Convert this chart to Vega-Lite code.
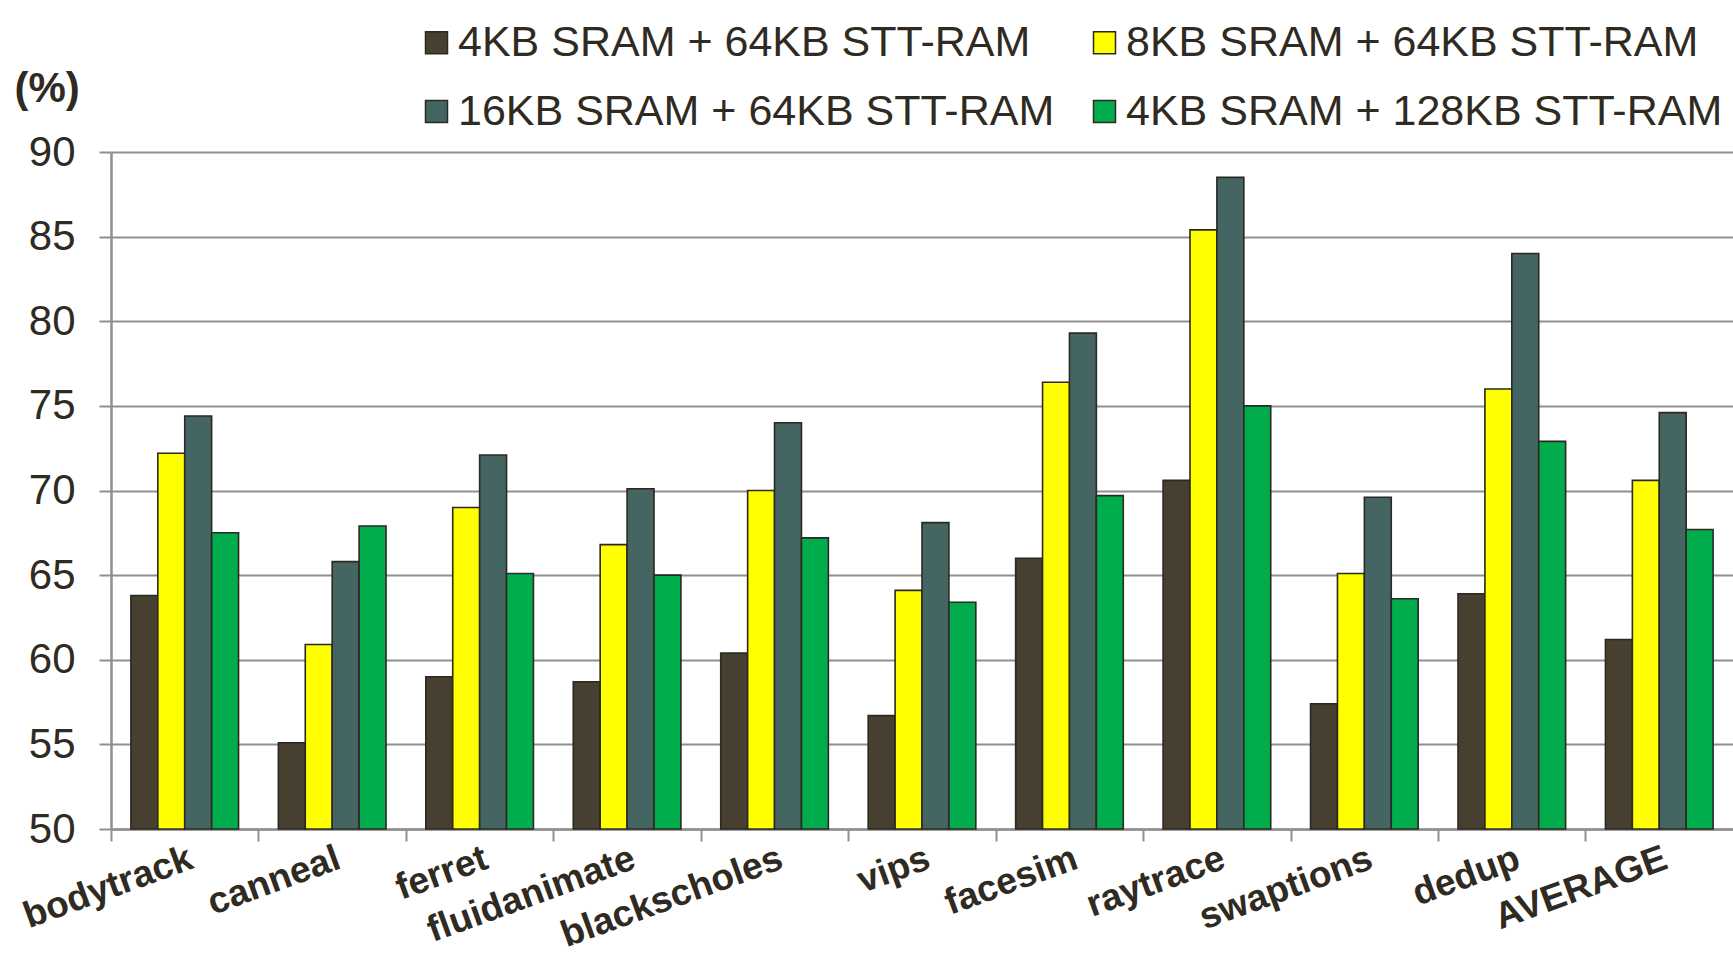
{
  "$schema": "https://vega.github.io/schema/vega-lite/v6.json",
  "width": 1622,
  "height": 677,
  "autosize": {"type": "none"},
  "padding": {"left": 111, "top": 152, "right": 0, "bottom": 130},
  "background": "#ffffff",
  "config": {
    "font": "Liberation Sans",
    "view": {"stroke": null},
    "axis": {"labelColor": "#2f2b22", "titleColor": "#2f2b22"}
  },
  "data": {
    "values": [
      {"bench": "bodytrack", "config": "4KB SRAM + 64KB STT-RAM", "value": 63.8},
      {"bench": "bodytrack", "config": "8KB SRAM + 64KB STT-RAM", "value": 72.2},
      {"bench": "bodytrack", "config": "16KB SRAM + 64KB STT-RAM", "value": 74.4},
      {"bench": "bodytrack", "config": "4KB SRAM + 128KB STT-RAM", "value": 67.5},
      {"bench": "canneal", "config": "4KB SRAM + 64KB STT-RAM", "value": 55.1},
      {"bench": "canneal", "config": "8KB SRAM + 64KB STT-RAM", "value": 60.9},
      {"bench": "canneal", "config": "16KB SRAM + 64KB STT-RAM", "value": 65.8},
      {"bench": "canneal", "config": "4KB SRAM + 128KB STT-RAM", "value": 67.9},
      {"bench": "ferret", "config": "4KB SRAM + 64KB STT-RAM", "value": 59.0},
      {"bench": "ferret", "config": "8KB SRAM + 64KB STT-RAM", "value": 69.0},
      {"bench": "ferret", "config": "16KB SRAM + 64KB STT-RAM", "value": 72.1},
      {"bench": "ferret", "config": "4KB SRAM + 128KB STT-RAM", "value": 65.1},
      {"bench": "fluidanimate", "config": "4KB SRAM + 64KB STT-RAM", "value": 58.7},
      {"bench": "fluidanimate", "config": "8KB SRAM + 64KB STT-RAM", "value": 66.8},
      {"bench": "fluidanimate", "config": "16KB SRAM + 64KB STT-RAM", "value": 70.1},
      {"bench": "fluidanimate", "config": "4KB SRAM + 128KB STT-RAM", "value": 65.0},
      {"bench": "blackscholes", "config": "4KB SRAM + 64KB STT-RAM", "value": 60.4},
      {"bench": "blackscholes", "config": "8KB SRAM + 64KB STT-RAM", "value": 70.0},
      {"bench": "blackscholes", "config": "16KB SRAM + 64KB STT-RAM", "value": 74.0},
      {"bench": "blackscholes", "config": "4KB SRAM + 128KB STT-RAM", "value": 67.2},
      {"bench": "vips", "config": "4KB SRAM + 64KB STT-RAM", "value": 56.7},
      {"bench": "vips", "config": "8KB SRAM + 64KB STT-RAM", "value": 64.1},
      {"bench": "vips", "config": "16KB SRAM + 64KB STT-RAM", "value": 68.1},
      {"bench": "vips", "config": "4KB SRAM + 128KB STT-RAM", "value": 63.4},
      {"bench": "facesim", "config": "4KB SRAM + 64KB STT-RAM", "value": 66.0},
      {"bench": "facesim", "config": "8KB SRAM + 64KB STT-RAM", "value": 76.4},
      {"bench": "facesim", "config": "16KB SRAM + 64KB STT-RAM", "value": 79.3},
      {"bench": "facesim", "config": "4KB SRAM + 128KB STT-RAM", "value": 69.7},
      {"bench": "raytrace", "config": "4KB SRAM + 64KB STT-RAM", "value": 70.6},
      {"bench": "raytrace", "config": "8KB SRAM + 64KB STT-RAM", "value": 85.4},
      {"bench": "raytrace", "config": "16KB SRAM + 64KB STT-RAM", "value": 88.5},
      {"bench": "raytrace", "config": "4KB SRAM + 128KB STT-RAM", "value": 75.0},
      {"bench": "swaptions", "config": "4KB SRAM + 64KB STT-RAM", "value": 57.4},
      {"bench": "swaptions", "config": "8KB SRAM + 64KB STT-RAM", "value": 65.1},
      {"bench": "swaptions", "config": "16KB SRAM + 64KB STT-RAM", "value": 69.6},
      {"bench": "swaptions", "config": "4KB SRAM + 128KB STT-RAM", "value": 63.6},
      {"bench": "dedup", "config": "4KB SRAM + 64KB STT-RAM", "value": 63.9},
      {"bench": "dedup", "config": "8KB SRAM + 64KB STT-RAM", "value": 76.0},
      {"bench": "dedup", "config": "16KB SRAM + 64KB STT-RAM", "value": 84.0},
      {"bench": "dedup", "config": "4KB SRAM + 128KB STT-RAM", "value": 72.9},
      {"bench": "AVERAGE", "config": "4KB SRAM + 64KB STT-RAM", "value": 61.2},
      {"bench": "AVERAGE", "config": "8KB SRAM + 64KB STT-RAM", "value": 70.6},
      {"bench": "AVERAGE", "config": "16KB SRAM + 64KB STT-RAM", "value": 74.6},
      {"bench": "AVERAGE", "config": "4KB SRAM + 128KB STT-RAM", "value": 67.7}
    ]
  },
  "mark": {"type": "bar", "stroke": "#2b2922", "strokeWidth": 1.6},
  "encoding": {
    "x": {
      "field": "bench",
      "type": "nominal",
      "sort": null,
      "scale": {"paddingInner": 0.27, "paddingOuter": 0.135},
      "axis": {
        "title": null,
        "bandPosition": 0,
        "tickOffset": -20,
        "labelOffset": 20,
        "labelAngle": -20,
        "labelAlign": "right",
        "labelBaseline": "top",
        "labelFontSize": 37,
        "labelFontWeight": "bold",
        "labelPadding": -1,
        "labelLimit": 0,
        "labelOverlap": false,
        "labelBound": false,
        "ticks": true,
        "tickSize": 12,
        "tickColor": "#8f8f8f",
        "tickWidth": 2,
        "domainColor": "#8f8f8f",
        "domainWidth": 2.5,
        "grid": false
      }
    },
    "xOffset": {
      "field": "config",
      "type": "nominal",
      "sort": ["4KB SRAM + 64KB STT-RAM", "8KB SRAM + 64KB STT-RAM", "16KB SRAM + 64KB STT-RAM", "4KB SRAM + 128KB STT-RAM"],
      "scale": {"paddingInner": 0, "paddingOuter": 0}
    },
    "y": {
      "field": "value",
      "type": "quantitative",
      "scale": {"domain": [50, 90], "nice": false, "zero": false},
      "axis": {
        "values": [50, 55, 60, 65, 70, 75, 80, 85, 90],
        "title": "(%)",
        "titleAngle": 0,
        "titleFontSize": 42,
        "titleFontWeight": "bold",
        "titleAlign": "left",
        "titleBaseline": "middle",
        "titleX": -97,
        "titleY": -64,
        "labelFontSize": 42,
        "labelPadding": 24,
        "labelFontWeight": "normal",
        "tickSize": 12,
        "tickColor": "#8f8f8f",
        "tickWidth": 2,
        "domainColor": "#8f8f8f",
        "domainWidth": 2.5,
        "grid": true,
        "gridColor": "#8f8f8f",
        "gridWidth": 2
      }
    },
    "y2": {"datum": 50},
    "color": {
      "field": "config",
      "type": "nominal",
      "sort": ["4KB SRAM + 64KB STT-RAM", "8KB SRAM + 64KB STT-RAM", "16KB SRAM + 64KB STT-RAM", "4KB SRAM + 128KB STT-RAM"],
      "scale": {
        "domain": ["4KB SRAM + 64KB STT-RAM", "8KB SRAM + 64KB STT-RAM", "16KB SRAM + 64KB STT-RAM", "4KB SRAM + 128KB STT-RAM"],
        "range": ["#473F2F", "#FFFF00", "#456563", "#00AC4C"]
      },
      "legend": {
        "title": null,
        "orient": "none",
        "legendX": 304,
        "legendY": -131,
        "direction": "horizontal",
        "columns": 2,
        "columnPadding": 28,
        "rowPadding": 25,
        "symbolType": "square",
        "symbolSize": 484,
        "symbolStrokeColor": "#2b2922",
        "symbolStrokeWidth": 1.5,
        "labelFontSize": 43,
        "labelColor": "#2f2b22",
        "labelLimit": 0,
        "labelOffset": 0
      }
    }
  }
}
